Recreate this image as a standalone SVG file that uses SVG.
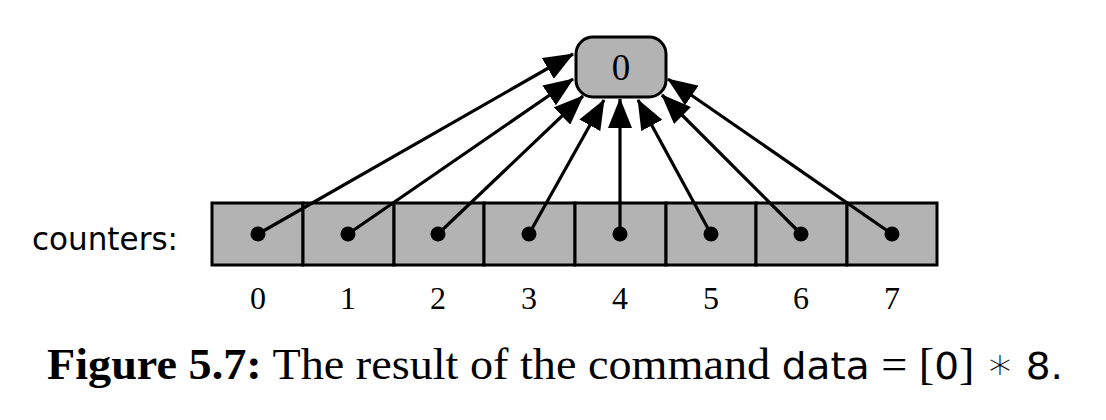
<svg xmlns="http://www.w3.org/2000/svg" width="1106" height="420" viewBox="0 0 1106 420">
<defs>
<style>
.cell{fill:#b3b3b3;stroke:#000;stroke-width:3}
.dot{fill:#000}
.conn line{stroke:#000;stroke-width:3.2;marker-end:url(#ah)}
.idx{font-family:"Liberation Serif",serif;font-size:32px;text-anchor:middle}
.big{font-size:37px}
.sans{font-family:"DejaVu Sans",sans-serif;font-size:38px}
.ast{font-family:"DejaVu Sans",sans-serif;font-size:44px;font-weight:200}
</style>
<marker id="ah" markerUnits="userSpaceOnUse" markerWidth="30" markerHeight="24" refX="29" refY="12" orient="auto" viewBox="0 0 30 24">
<path d="M0,0 L30,12 L0,24 Z" fill="#000"/>
</marker>
</defs>
<rect width="1106" height="420" fill="#fff"/>
<g id="target">
<rect x="576" y="37" width="90" height="60" rx="17" class="cell"/>
<text x="621" y="80" class="idx big">0</text>
</g>
<g id="label">
<text x="32" y="250" font-family="DejaVu Sans,sans-serif" font-size="32" textLength="146" lengthAdjust="spacingAndGlyphs">counters:</text>
</g>
<g id="array">
<rect x="212" y="203" width="91" height="62" class="cell"/>
<rect x="303" y="203" width="91" height="62" class="cell"/>
<rect x="394" y="203" width="90" height="62" class="cell"/>
<rect x="484" y="203" width="91" height="62" class="cell"/>
<rect x="575" y="203" width="91" height="62" class="cell"/>
<rect x="666" y="203" width="90" height="62" class="cell"/>
<rect x="756" y="203" width="91" height="62" class="cell"/>
<rect x="847" y="203" width="90" height="62" class="cell"/>
<circle cx="258" cy="234" r="7.5" class="dot"/>
<circle cx="348" cy="234" r="7.5" class="dot"/>
<circle cx="438" cy="234" r="7.5" class="dot"/>
<circle cx="529" cy="234" r="7.5" class="dot"/>
<circle cx="620" cy="234" r="7.5" class="dot"/>
<circle cx="711" cy="234" r="7.5" class="dot"/>
<circle cx="801" cy="234" r="7.5" class="dot"/>
<circle cx="892" cy="234" r="7.5" class="dot"/>
</g>
<g id="indices">
<text x="258" y="309" class="idx">0</text>
<text x="348" y="309" class="idx">1</text>
<text x="438" y="309" class="idx">2</text>
<text x="529" y="309" class="idx">3</text>
<text x="620" y="309" class="idx">4</text>
<text x="711" y="309" class="idx">5</text>
<text x="801" y="309" class="idx">6</text>
<text x="892" y="309" class="idx">7</text>
</g>
<g class="conn" id="connectors">
<line x1="258" y1="234" x2="573" y2="54"/>
<line x1="348" y1="234" x2="573" y2="79"/>
<line x1="438" y1="234" x2="583" y2="96"/>
<line x1="529" y1="234" x2="604" y2="100"/>
<line x1="620" y1="234" x2="620" y2="99"/>
<line x1="711" y1="234" x2="638" y2="100"/>
<line x1="801" y1="234" x2="662" y2="95"/>
<line x1="892" y1="234" x2="668" y2="79"/>
</g>
<g id="caption">
<text x="47" y="379" font-family="Liberation Serif,serif" font-size="45" textLength="1016" lengthAdjust="spacingAndGlyphs"><tspan font-weight="bold">Figure 5.7:</tspan> The result of the command <tspan class="sans">data</tspan> = [<tspan class="sans">0</tspan>] <tspan class="ast">∗</tspan> <tspan class="sans">8.</tspan></text>
</g>
</svg>
